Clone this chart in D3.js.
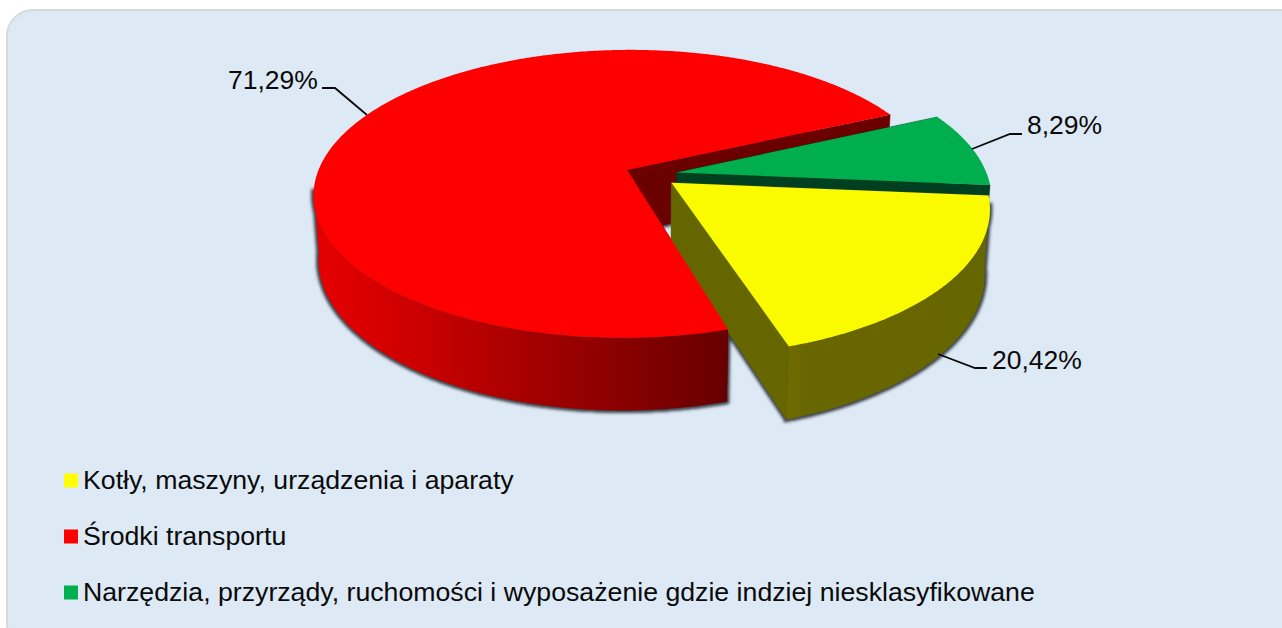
<!DOCTYPE html>
<html><head><meta charset="utf-8">
<style>html,body{margin:0;padding:0;background:#fff;overflow:hidden}svg{display:block}text{font-family:"Liberation Sans",Arial,sans-serif;fill:#0a0a0a}</style>
<script src="https://cdn.jsdelivr.net/npm/d3@7"></script></head><body>
<svg id="c" width="1282" height="628"></svg>
<script>
const categories=["Kotły, maszyny, urządzenia i aparaty","Środki transportu","Narzędzia, przyrządy, ruchomości i wyposażenie gdzie indziej niesklasyfikowane"];
const values=[20.42,71.29,8.29];
const valueLabels=["20,42%","71,29%","8,29%"];
const colors=["#ffff00","#ff0000","#00b050"];
const faceColors=["#fbfb00","#fe0000","#00ae4e"];
const wallColors=["#666600","#6b0000","#004020"];

const svg=d3.select("#c");
const defs=svg.append("defs");
const blurF=defs.append("filter").attr("id","sh").attr("x","-10%").attr("y","-10%").attr("width","120%").attr("height","120%");
blurF.append("feGaussianBlur").attr("stdDeviation",1.8);
const grad=(id,x1,x2,stops)=>{const g=defs.append("linearGradient").attr("id",id).attr("gradientUnits","userSpaceOnUse")
  .attr("x1",x1).attr("x2",x2).attr("y1",0).attr("y2",0);
  stops.forEach(([o,c])=>g.append("stop").attr("offset",o).attr("stop-color",c));};
grad("gr",313,728,[[0,"#e60000"],[.25,"#cc0000"],[.5,"#a80000"],[.75,"#880000"],[1,"#660000"]]);
grad("gy",786,985,[[0,"#706c00"],[.1,"#686600"],[1,"#666600"]]);
grad("gg",900,990,[[0,"#006030"],[1,"#004020"]]);
const wallFill=["url(#gy)","url(#gr)","url(#gg)"];

svg.append("rect").attr("x",7).attr("y",10).attr("width",1320).attr("height",640).attr("rx",26)
  .attr("fill","#dde9f5").attr("stroke","#d9d9d9").attr("stroke-width",2);

// projection of the tilted disc
const cx=651,cy=175,Rx=310.5,Ry=141.7,k=1/6,q=0.015,D=64.5,explode=0.085;
const P=(u,v,z)=>{const w=1-k*v+q*z;return [cx+Rx*u/w,cy+(Ry*v+D*z)/w];};
const lineGen=d3.line();
const deg=Math.PI/180;
const pieGen=d3.pie().sort(null).startAngle(93*deg).endAngle((93+360)*deg);
const slices=pieGen(values);
// the reference's perspective squeezes angles unevenly: true angle -> drawn angle
const warp=d3.scaleLinear()
  .domain([slices[0].startAngle,slices[0].endAngle,slices[1].endAngle,slices[2].endAngle])
  .range([95*deg,162.3*deg,425*deg,455*deg]);
const redStartNudge=1*deg;
const arcs=slices.map((d,i)=>{
  const mid=(d.startAngle+d.endAngle)/2;
  const ox=explode*Math.sin(mid),oy=-explode*Math.cos(mid);
  const pt=(a,r,z)=>P(ox+r*Math.sin(a),oy-r*Math.cos(a),z);
  const start=warp(d.startAngle)+(i===1?redStartNudge:0),end=warp(d.endAngle);
  const n=Math.ceil((end-start)/0.01);
  const as=d3.range(n+1).map(j=>start+(end-start)*j/n);
  return {i,pt,as,start,end};
});
const topPath=a=>lineGen([a.pt(0,0,0),...a.as.map(t=>a.pt(t,1,0))])+"Z";
const bottomPath=a=>lineGen([a.pt(0,0,1),...a.as.map(t=>a.pt(t,1,1))])+"Z";
const outerPath=a=>{
  const front=a.as.filter(t=>Math.cos(t)<-0.13);
  if(!front.length) return "";
  return lineGen([...front.map(t=>a.pt(t,1,0)),...front.slice().reverse().map(t=>a.pt(t,1,1))])+"Z";
};
const radialPath=(a,t)=>lineGen([a.pt(0,0,0),a.pt(t,1,0),a.pt(t,1,1),a.pt(0,0,1)])+"Z";

// shadow layer
const shadowG=svg.append("g").attr("filter","url(#sh)");
arcs.forEach(a=>shadowG.append("path").attr("d",bottomPath(a)).attr("fill","#3c4248").attr("stroke","#3c4248").attr("stroke-width",5).attr("stroke-linejoin","round"));
arcs.forEach(a=>shadowG.append("path").attr("d",outerPath(a)).attr("fill","#3c4248").attr("stroke","#3c4248").attr("stroke-width",5));
const pies=svg.append("g");
const radials=a=>{[a.start,a.end].forEach(t=>pies.append("path").attr("d",radialPath(a,t)).attr("fill",wallColors[a.i]).attr("stroke",wallColors[a.i]).attr("stroke-width",.4));};
const rim=a=>pies.append("path").attr("d",outerPath(a)).attr("fill",wallFill[a.i]);
const face=a=>pies.append("path").attr("d",topPath(a)).attr("fill",faceColors[a.i]);
const [yellow,red,green]=arcs;
radials(red);
radials(green);rim(green);face(green);
radials(yellow);rim(yellow);face(yellow);
rim(red);face(red);

// leader lines + labels
const leaderXs=[[938,975,987],[367,335,322],[972,1010,1022]];
const leaderYs=[[354,368,368],[115,88,88],[149,134,134]];
const labelX=[992,228,1027],labelY=[369,89,134];
values.forEach((v,i)=>{
  svg.append("path").attr("d",lineGen(d3.zip(leaderXs[i],leaderYs[i]))).attr("fill","none").attr("stroke","#0a0a0a").attr("stroke-width",1.8);
  svg.append("text").attr("x",labelX[i]).attr("y",labelY[i]).attr("font-size",26.5).text(valueLabels[i]);
});
// legend
const legendY=d3.scalePoint().domain(categories).range([489,601]);
categories.forEach((c,i)=>{
  const y=legendY(c);
  svg.append("rect").attr("x",64).attr("y",y-15.5).attr("width",14).attr("height",14).attr("fill",colors[i]);
  svg.append("text").attr("x",83).attr("y",y).attr("font-size",26.7).text(c);
});
</script></body></html>
